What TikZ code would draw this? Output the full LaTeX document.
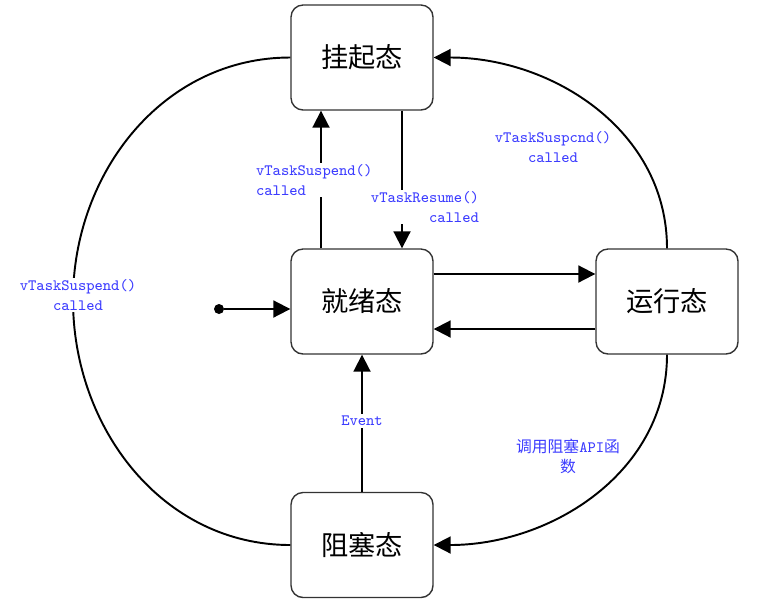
\documentclass[tikz,border=0pt]{standalone}
\usepackage{fontspec}
\usepackage{tikz}
\usetikzlibrary{arrows.meta, calc}
\newfontfamily\cjk{Noto Sans CJK SC}
\definecolor{lblblue}{RGB}{60,60,255}
\tikzset{
    state/.style={draw=black!80, line width=0.8pt, rounded corners=0.24cm,
        minimum width=2.84cm, minimum height=2.1cm, fill=white,
        font=\cjk\fontsize{15.5}{18}\selectfont}, % preset style for a state box
    trans/.style={line width=1.1pt, -{Triangle[length=0.34cm, width=0.34cm]}}, % arrow between states
    plain/.style={line width=1.1pt}, % curve without tip
    lbl/.style={text=lblblue, fill=white, inner sep=1pt,
        font=\ttfamily\fontsize{9}{11.4}\selectfont}, % preset style for a label
}

\begin{document}
\begin{tikzpicture}[x=0.02cm, y=-0.02cm]
        \useasboundingbox (0, 0) rectangle (783, 602);
        \node[state] (susp) at (362, 57.5) {挂起态};
        \node[state] (ready) at (362, 301.5) {就绪态};
        \node[state] (run) at (667, 301.5) {运行态};
        \node[state] (block) at (362, 545) {阻塞态};
        % start point
        \node[circle, fill=black, inner sep=0pt, minimum size=0.2cm] (init) at (219, 309) {};
        \draw[trans] (init) -- (ready.west |- init);
        % ready <-> suspended
        \draw[trans] (ready.north -| 321, 0) -- (susp.south -| 321, 0);
        \draw[trans] (susp.south -| 402, 0) -- (ready.north -| 402, 0);
        % ready <-> running
        \draw[trans] (ready.east |- 0, 274) -- (run.west |- 0, 274);
        \draw[trans] (run.west |- 0, 329) -- (ready.east |- 0, 329);
        % blocked -> ready
        \draw[trans] (block.north) -- (ready.south);
        % curves
        \draw[trans] (run.north) to[out=90, in=0] (susp.east);
        \draw[trans] (run.south) to[out=-90, in=0] (block.east);
        \draw[plain] (block.west) to[out=180, in=-90] (73, 300) to[out=90, in=180] (susp.west);
        % labels
        \node[lbl, anchor=west, align=left] (lsusp) at (254, 180) {vTaskSuspend()\\called};
        \node[lbl, anchor=east, align=right] (lres) at (481, 207) {vTaskResume()\\called};
        \node[lbl, align=center, fill=none] (lrun) at (553, 147) {vTaskSuspcnd()\\called};
        \node[lbl, align=center] (lleft) at (78, 295) {vTaskSuspend()\\called};
        \node[lbl, align=center] (levt) at (362, 421) {Event};
        \node[lbl, align=center, fill=none] (lblk) at (568, 456) {{\cjk 调用阻塞}API{\cjk 函}\\{\cjk 数}};
    \end{tikzpicture}
\end{document}
